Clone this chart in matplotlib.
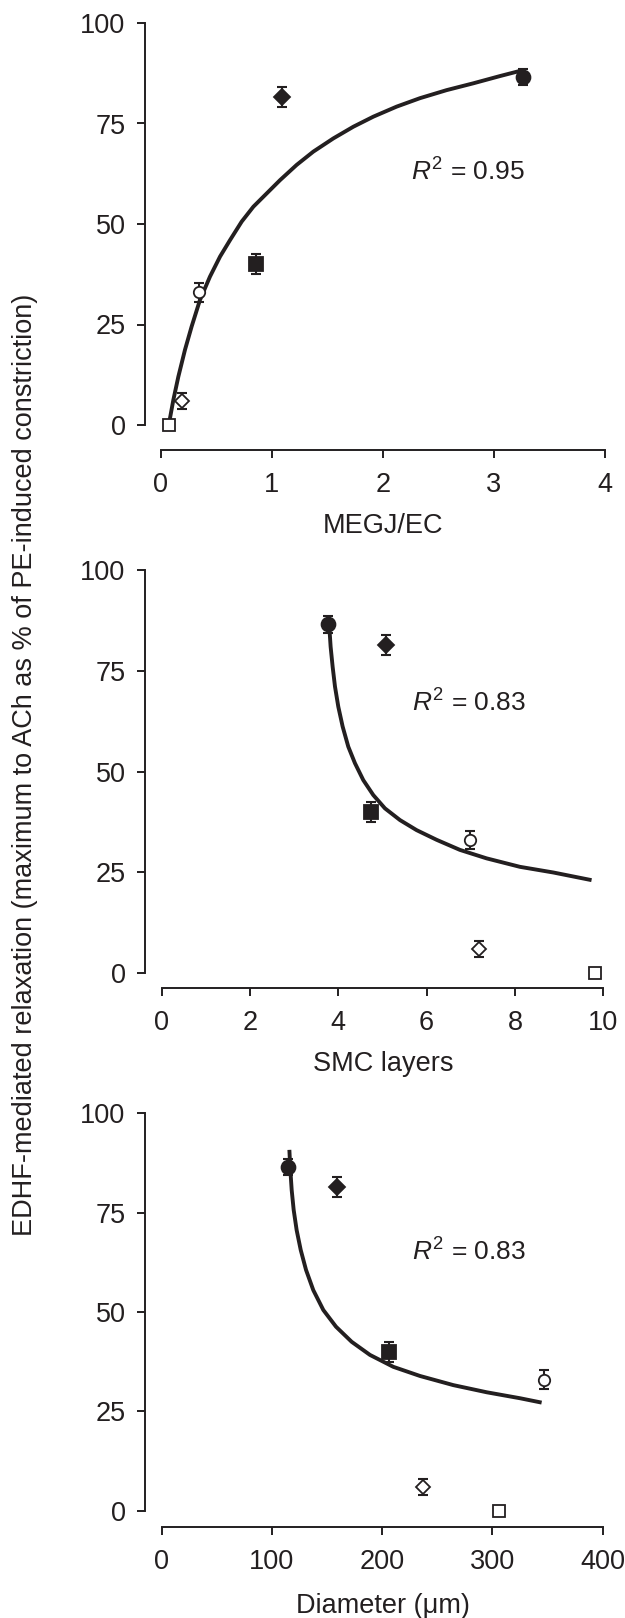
import matplotlib
matplotlib.use('Agg')
import matplotlib.pyplot as plt

plt.rcParams['font.family'] = ['Liberation Sans', 'DejaVu Sans']
plt.rcParams['mathtext.fontset'] = 'custom'
plt.rcParams['mathtext.rm'] = 'Liberation Sans'
plt.rcParams['mathtext.it'] = 'Liberation Sans:italic'

# one value per vessel, same order in every panel
relax = [86.5, 81.5, 40.0, 33.0, 6.0, 0.0]
relax_err = [2.0, 2.5, 2.5, 2.3, 2.0, 0.0]

megj_ec = [3.26, 1.09, 0.86, 0.34, 0.19, 0.07]
smc_layers = [3.77, 5.08, 4.75, 6.99, 7.18, 9.81]
diameter = [115, 159, 206, 347, 237, 306]

# fitted curves
megj_fit_x = [0.075, 0.111, 0.156, 0.216, 0.276, 0.351, 0.441, 0.532, 0.622, 0.727, 0.832, 0.952,
              1.072, 1.222, 1.372, 1.553, 1.733, 1.913, 2.123, 2.333, 2.573, 2.814, 3.054, 3.264]
megj_fit_y = [0.8, 6.2, 12.0, 18.7, 24.5, 31.1, 36.9, 41.9, 46.0, 50.6, 54.3, 57.6,
              60.9, 64.7, 68.0, 71.3, 74.2, 76.7, 79.2, 81.3, 83.3, 85.0, 86.8, 88.3]

smc_fit_x = [3.795, 3.825, 3.871, 3.924, 3.999, 4.097, 4.225, 4.376, 4.565, 4.791, 5.055, 5.395,
             5.772, 6.225, 6.753, 7.357, 8.112, 8.866, 9.734]
smc_fit_y = [86.0, 81.0, 76.0, 71.1, 66.1, 61.2, 56.2, 52.1, 47.9, 44.2, 40.9, 38.0,
             35.5, 33.1, 30.6, 28.5, 26.4, 25.0, 23.1]

diam_fit_x = [115.8, 116.7, 117.9, 119.7, 122.4, 126.1, 130.9, 137.5, 146.6, 158.1, 172.3, 188.9,
              210.1, 234.3, 264.5, 294.8, 325.0, 344.6]
diam_fit_y = [90.8, 85.7, 80.7, 75.7, 70.6, 65.6, 60.6, 55.5, 50.5, 46.3, 42.5, 39.2,
              36.2, 33.9, 31.6, 29.8, 28.3, 27.2]

r2_labels = ['0.95', '0.83', '0.83']

# marker style per vessel
markers = ['o', 'D', 's', 'o', 'D', 's']
faces = ['#231f20', '#231f20', '#231f20', 'white', 'white', 'white']
msizes = [10.0, 7.8, 9.5, 8.2, 7.0, 8.8]

ink = '#231f20'
W, H = 625, 1618
fig = plt.figure(figsize=(W / 100, H / 100), dpi=100)


def px_axes(x0, x1, ytop, ybot):
    return fig.add_axes([x0 / W, 1 - ybot / H, (x1 - x0) / W, (ybot - ytop) / H])


def style_panel(ax, xmax, xticks, left_off, bottom_off):
    ax.set_xlim(0, xmax)
    ax.set_ylim(0, 100)
    for s in ['top', 'right']:
        ax.spines[s].set_visible(False)
    ax.spines['left'].set_position(('outward', left_off * 0.72))
    ax.spines['bottom'].set_position(('outward', bottom_off * 0.72))
    ax.spines['left'].set_bounds(0, 100)
    ax.spines['bottom'].set_bounds(0, xmax)
    for s in ['left', 'bottom']:
        ax.spines[s].set_linewidth(1.4)
        ax.spines[s].set_color(ink)
    ax.set_yticks([0, 25, 50, 75, 100])
    ax.set_xticks(xticks)
    ax.tick_params(axis='both', direction='out', length=6, width=1.4, color=ink,
                   labelsize=19.5, labelcolor=ink)
    ax.tick_params(axis='y', pad=8)
    ax.tick_params(axis='x', pad=9.5)
    ax.patch.set_alpha(0)


def draw_points(ax, xs):
    ax.errorbar(xs, relax, yerr=relax_err, fmt='none', ecolor=ink, elinewidth=1.5,
                capsize=3.4, capthick=1.5, zorder=3, clip_on=False)
    for i in range(len(xs)):
        ax.plot(xs[i], relax[i], marker=markers[i], ms=msizes[i], mfc=faces[i],
                mec=ink, mew=1.3, ls='none', zorder=4, clip_on=False)


panels = [
    (px_axes(161, 605, 23, 425), megj_ec, megj_fit_x, megj_fit_y, 4, [0, 1, 2, 3, 4], 16, 25),
    (px_axes(161.7, 603.3, 570, 973.3), smc_layers, smc_fit_x, smc_fit_y, 10, [0, 2, 4, 6, 8, 10], 16.7, 15),
    (px_axes(161.7, 602.7, 1113.3, 1510.7), diameter, diam_fit_x, diam_fit_y, 400, [0, 100, 200, 300, 400], 16.7, 16.6),
]
r2_pos = [(0.563, 0.629), (0.566, 0.67), (0.567, 0.652)]

for k, (ax, xs, fx, fy, xmax, xt, loff, boff) in enumerate(panels):
    style_panel(ax, xmax, xt, loff, boff)
    ax.plot(fx, fy, color=ink, lw=2.8, solid_capstyle='butt', solid_joinstyle='round',
            zorder=2, clip_on=False)
    draw_points(ax, xs)
    ax.text(r2_pos[k][0], r2_pos[k][1], r'$\it{R}^{2}$ = ' + r2_labels[k], transform=ax.transAxes,
            ha='left', va='center', fontsize=19, color=ink)

fig.text(383 / W, 1 - 533 / H, 'MEGJ/EC', ha='center', va='baseline', fontsize=19.5, color=ink)
fig.text(383 / W, 1 - 1071 / H, 'SMC layers', ha='center', va='baseline', fontsize=19.5, color=ink)
fig.text(383 / W, 1 - 1613 / H, 'Diameter (\u03bcm)', ha='center', va='baseline', fontsize=19.5, color=ink)
fig.text(25 / W, 1 - 765 / H, 'EDHF-mediated relaxation (maximum to ACh as % of PE-induced constriction)',
         rotation=90, ha='center', va='center', fontsize=19.5, color=ink)

fig.savefig('out.png', dpi=100)
